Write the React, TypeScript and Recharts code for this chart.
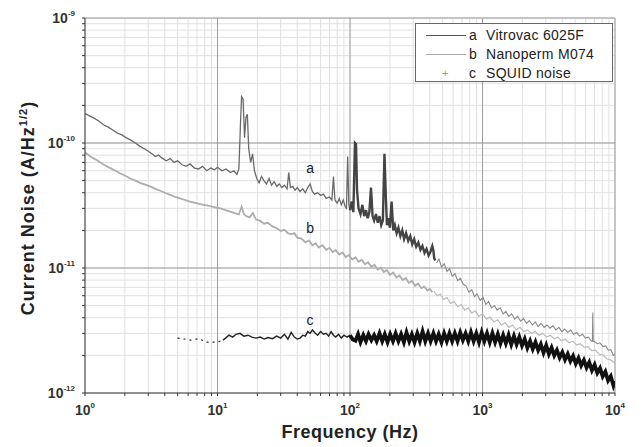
import { ComposedChart, Line, XAxis, YAxis, CartesianGrid, ReferenceLine, ReferenceDot } from 'recharts'

// noise values are in units of 1e-12 A/Hz^1/2, frequencies in Hz
const FONT = '"Liberation Sans", Arial, sans-serif'

const xMajor = [1, 10, 100, 1000, 10000]
const yMajor = [1, 10, 100, 1000]
const minorSteps = [1, 2, 3, 4, 5, 6, 7, 8, 9]

const vitrovacLow: [number, number][] = [
  [1, 172], [1.08, 165], [1.17, 158], [1.27, 150], [1.38, 140], [1.5, 134], [1.62, 127], [1.76, 120],
  [1.9, 116], [2.05, 110], [2.2, 106], [2.4, 100], [2.6, 94], [2.8, 90], [3.0, 86], [3.2, 82],
  [3.4, 78], [3.6, 80], [3.8, 76], [4.1, 72], [4.4, 75], [4.7, 70], [5.0, 72], [5.4, 67],
  [5.8, 65], [6.2, 68], [6.7, 63], [7.2, 62], [7.7, 65], [8.3, 60], [8.9, 63], [9.5, 61],
  [10, 64], [10.8, 60], [11.6, 62], [12.5, 58], [13.3, 60], [14, 56], [14.5, 62], [14.9, 140],
  [15.2, 235], [15.6, 225], [16, 110], [16.4, 160], [16.8, 170], [17.2, 90], [17.8, 70], [18.4, 82],
  [19, 60], [19.8, 52], [20.6, 48], [21.5, 54], [22.4, 50], [23.4, 47], [24.5, 52], [25.6, 46],
  [26.8, 49], [28, 45], [29.3, 47], [30.6, 44], [32, 46], [33.5, 43], [34.5, 58], [35.5, 44],
  [37, 45], [38.5, 42], [40, 44], [42, 41], [44, 43], [46, 40], [48, 44], [50, 47],
  [52, 41], [54, 39], [57, 40], [60, 38], [63, 39], [66, 36], [70, 37], [73, 35],
  [75, 54], [77, 35], [80, 33], [83, 36], [86, 32], [89, 35], [92, 31], [94, 30],
  [96, 78], [98, 32], [100, 29],
]

const vitrovacMid: [number, number][] = [
  [100, 29], [103, 34], [106, 28], [109, 100], [111, 98], [113, 42],
  [116, 30], [120, 27], [124, 32], [128, 26], [132, 29], [136, 25], [140, 28], [144, 44],
  [148, 26], [152, 24], [157, 27], [162, 23], [167, 26], [172, 22], [177, 24], [182, 82],
  [186, 40], [190, 22], [195, 25], [200, 21], [206, 34], [212, 20], [218, 22], [225, 19],
  [232, 21], [240, 18], [248, 20], [256, 17], [265, 19], [275, 16.5], [285, 18], [295, 15.5],
  [305, 17], [316, 14.8], [328, 16], [340, 14], [352, 15], [365, 13.2], [378, 14.2], [392, 12.6],
  [405, 13.5], [418, 15], [425, 14], [432, 12], [440, 11.5],
]

const vitrovacHigh: [number, number][] = [
  [450, 11], [470, 11.8], [490, 10.2], [515, 10.8], [540, 9.4], [565, 9.9], [590, 8.6], [620, 9.0],
  [650, 7.9], [680, 8.3], [715, 7.4], [750, 7.2], [790, 6.4], [830, 6.7], [870, 5.9], [910, 6.2],
  [960, 5.5], [1010, 5.8], [1060, 5.1], [1110, 5.4], [1170, 4.8], [1230, 5.0], [1290, 4.6], [1360, 4.8],
  [1430, 4.3], [1500, 4.5], [1580, 4.1], [1660, 4.3], [1750, 3.9], [1840, 4.1], [1940, 3.75], [2040, 3.95],
  [2150, 3.6], [2260, 3.8], [2380, 3.5], [2500, 3.7], [2630, 3.4], [2770, 3.6], [2920, 3.35], [3070, 3.5],
  [3230, 3.3], [3400, 3.45], [3580, 3.2], [3770, 3.35], [3970, 3.1], [4180, 3.25], [4400, 3.05], [4630, 3.2],
  [4870, 2.95], [5130, 3.05], [5400, 2.85], [5680, 2.95], [5980, 2.75], [6300, 2.8], [6600, 2.62], [6750, 2.6],
  [6800, 4.4], [6850, 2.6], [7000, 2.58], [7350, 2.48], [7700, 2.52], [8100, 2.35], [8500, 2.38], [8900, 2.2],
  [9300, 2.22], [9700, 2.0], [10000, 2.05],
]

const nanopermLow: [number, number][] = [
  [1, 84], [1.1, 78], [1.2, 74], [1.3, 70], [1.42, 66], [1.55, 63], [1.7, 60], [1.85, 57],
  [2.0, 55], [2.2, 52], [2.4, 50], [2.6, 48], [2.85, 46.5], [3.1, 45], [3.4, 43], [3.7, 41.5],
  [4.0, 40], [4.4, 38.5], [4.8, 37], [5.2, 36], [5.7, 35], [6.2, 34], [6.8, 33.2], [7.4, 32.5],
  [8.1, 31.8], [8.8, 31.2], [9.6, 30.6], [10.5, 30], [11.5, 29], [12.5, 28.3], [13.5, 27.5], [14.5, 26.8],
  [15.2, 31], [15.8, 27], [16.5, 26], [17.5, 25.4], [18.5, 27.5], [19.5, 24.5], [21, 23.8], [22.5, 22.6],
  [24, 23], [26, 21.5], [28, 20.8], [30, 19.8], [32, 20.2], [34, 19], [36, 18.6], [38, 19],
  [40, 17.5], [43, 17.2], [46, 16], [49, 16.6], [52, 15.2], [55, 15.8], [58, 14.6], [62, 15.2],
  [66, 14], [70, 14.5], [74, 13.4], [78, 13.9], [83, 12.8], [88, 13.3], [93, 12.2], [98, 12.7],
  [104, 11.7], [110, 12.2], [116, 11.2], [123, 11.6], [130, 10.7], [137, 11.1], [145, 10.2], [153, 10.6],
  [162, 9.7], [171, 10.1], [180, 9.3], [190, 9.6], [200, 8.8], [212, 9.2], [224, 8.4], [236, 8.7],
  [250, 8.0], [264, 8.3], [278, 7.6], [294, 7.9], [310, 7.2], [327, 7.5], [345, 6.9], [364, 7.1],
  [384, 6.6], [400, 6.8], [420, 6.4],
]

const nanopermHigh: [number, number][] = [
  [430, 6.5], [455, 6.0], [480, 6.2], [510, 5.6], [540, 5.8], [575, 5.2], [610, 5.4], [650, 4.9],
  [690, 5.1], [735, 4.6], [780, 4.8], [830, 4.35], [880, 4.55], [940, 4.1], [1000, 4.3], [1070, 3.9],
  [1140, 4.05], [1220, 3.7], [1300, 3.85], [1390, 3.5], [1480, 3.65], [1580, 3.35], [1690, 3.5], [1800, 3.2],
  [1920, 3.35], [2050, 3.1], [2190, 3.2], [2340, 3.0], [2500, 3.1], [2670, 2.9], [2850, 3.0], [3040, 2.8],
  [3250, 2.9], [3470, 2.72], [3700, 2.8], [3950, 2.62], [4220, 2.7], [4500, 2.52], [4800, 2.6], [5130, 2.42],
  [5480, 2.48], [5850, 2.32], [6250, 2.35], [6670, 2.18], [7120, 2.2], [7600, 2.04], [8100, 2.02], [8650, 1.88],
  [9250, 1.84], [10000, 1.72],
]

const squidSparse: [number, number][] = [
  [5.0, 2.75], [6.3, 2.65], [7.2, 2.72], [8.3, 2.55], [8.8, 2.56], [9.6, 2.55], [10.1, 2.56], [11, 2.65],
]

const squidLow: [number, number][] = [
  [11, 2.65], [11.5, 2.75], [12.2, 2.9], [13, 2.8], [13.8, 2.95], [14.8, 3.0], [15.8, 2.85], [17, 2.9],
  [18.2, 2.8], [19.5, 2.75], [21, 2.8], [22.5, 2.7], [24, 2.78], [26, 2.72], [28, 2.85], [30, 2.75],
  [32, 2.95], [34, 2.7], [36, 3.05], [38, 2.8], [40, 2.7], [42, 2.75], [44, 2.9], [46, 2.85],
  [48, 3.1], [50, 3.0], [52, 3.2], [54, 3.05], [57, 2.9], [60, 3.1], [63, 2.95], [66, 3.0],
  [69, 2.85], [72, 3.1], [75, 2.9], [78, 2.8], [82, 2.95], [86, 2.75], [90, 2.9], [95, 2.8],
  [100, 2.9],
]

const squidHigh: [number, number][] = [
  [100, 2.9], [105, 2.68], [110, 2.62], [115, 2.95], [120, 2.55], [126, 2.9], [132, 2.6], [138, 2.95],
  [145, 2.65], [152, 2.9], [159, 2.6], [167, 3.0], [175, 2.6], [183, 2.95], [192, 2.55], [201, 2.95],
  [211, 2.6], [221, 3.0], [232, 2.6], [243, 2.95], [255, 2.55], [267, 3.05], [280, 2.6], [293, 2.95],
  [307, 2.55], [322, 3.0], [337, 2.6], [353, 3.1], [370, 2.6], [388, 3.0], [406, 2.6], [426, 3.0],
  [446, 2.6], [467, 2.95], [490, 2.55], [513, 3.0], [538, 2.6], [563, 3.0], [590, 2.6], [618, 3.0],
  [648, 2.6], [679, 3.05], [711, 2.65], [745, 3.0], [781, 2.6], [818, 3.05], [857, 2.6], [898, 3.0],
  [941, 2.55], [986, 3.05], [1033, 2.6], [1082, 3.0], [1134, 2.55], [1188, 3.0], [1245, 2.55], [1305, 2.95],
  [1367, 2.5], [1432, 2.9], [1501, 2.5], [1573, 2.9], [1648, 2.45], [1727, 2.85], [1809, 2.45], [1896, 2.8],
  [1987, 2.4], [2082, 2.7], [2181, 2.3], [2286, 2.6], [2395, 2.25], [2510, 2.55], [2630, 2.2], [2755, 2.45],
  [2887, 2.1], [3025, 2.4], [3170, 2.05], [3322, 2.3], [3481, 2.0], [3647, 2.2], [3822, 1.92], [4005, 2.12],
  [4196, 1.85], [4397, 2.05], [4607, 1.8], [4828, 1.98], [5059, 1.72], [5301, 1.9], [5555, 1.66], [5820, 1.83],
  [6099, 1.6], [6391, 1.76], [6697, 1.52], [7017, 1.68], [7353, 1.45], [7705, 1.58], [8073, 1.36], [8459, 1.48],
  [8864, 1.26], [9288, 1.36], [9732, 1.15], [10000, 1.25],
]

const legendItems = [
  { key: 'a', name: 'Vitrovac 6025F', color: '#555', mark: 'line' },
  { key: 'b', name: 'Nanoperm M074', color: '#aaa', mark: 'line' },
  { key: 'c', name: 'SQUID noise', color: '#999', mark: 'plus' },
]

const curveLabels = [
  { text: 'a', f: 50, v: 63 },
  { text: 'b', f: 50, v: 21 },
  { text: 'c', f: 50, v: 3.85 },
]

const withMinors = (majors: number[]) =>
  majors.flatMap((m, i) => (i === majors.length - 1 ? [m] : minorSteps.map((k) => k * m)))

const xTicks = withMinors(xMajor)
const yTicks = withMinors(yMajor)

const toRows = (pts: [number, number][]) => pts.map(([f, v]) => ({ f, v }))

function XTick({ x, y, payload }: any) {
  if (!xMajor.includes(payload.value)) return <g />
  const exp = Math.round(Math.log10(payload.value))
  return (
    <text x={x} y={y + 17} textAnchor="middle" fontFamily={FONT} fontWeight="bold" fontSize={14} fill="#333">
      <tspan>10</tspan>
      <tspan dy={-7} fontSize={8}>{exp}</tspan>
    </text>
  )
}

function YTick({ x, y, payload }: any) {
  if (!yMajor.includes(payload.value)) return <g />
  const exp = Math.round(Math.log10(payload.value)) - 12
  return (
    <text x={x - 5} y={y + 5} textAnchor="end" fontFamily={FONT} fontWeight="bold" fontSize={14} fill="#333">
      <tspan>10</tspan>
      <tspan dy={-7} fontSize={8}>{exp}</tspan>
    </text>
  )
}

export default function App() {
  return (
    <div style={{ position: 'absolute', left: 0, top: 0, width: 644, height: 447, background: '#fff', fontFamily: FONT }}>
      <ComposedChart width={644} height={447} margin={{ top: 18, right: 29, left: 15, bottom: 14 }}>
        <CartesianGrid stroke="#e0e0e0" />
        <XAxis
          type="number" dataKey="f" scale="log" domain={[1, 10000]} allowDataOverflow
          ticks={xTicks} interval={0} tick={<XTick />} tickSize={3} height={40}
          axisLine={{ stroke: '#333' }} tickLine={{ stroke: '#333' }}
        />
        <YAxis
          type="number" dataKey="v" scale="log" domain={[1, 1000]} allowDataOverflow
          ticks={yTicks} interval={0} tick={<YTick />} tickSize={3} width={70}
          axisLine={{ stroke: '#333' }} tickLine={{ stroke: '#333' }}
        />
        {xMajor.slice(1).map((f) => (
          <ReferenceLine key={`x${f}`} x={f} stroke="#9c9c9c" />
        ))}
        {yMajor.slice(1).map((v) => (
          <ReferenceLine key={`y${v}`} y={v} stroke="#9c9c9c" />
        ))}
        <Line data={toRows(nanopermLow)} dataKey="v" type="linear" dot={false} stroke="#adadad" strokeWidth={1.8} isAnimationActive={false} />
        <Line data={toRows(nanopermHigh)} dataKey="v" type="linear" dot={false} stroke="#bababa" strokeWidth={1.2} isAnimationActive={false} />
        <Line data={toRows(vitrovacLow)} dataKey="v" type="linear" dot={false} stroke="#6a6a6a" strokeWidth={1.3} isAnimationActive={false} />
        <Line data={toRows(vitrovacMid)} dataKey="v" type="linear" dot={false} stroke="#444" strokeWidth={2.4} isAnimationActive={false} />
        <Line data={toRows(vitrovacHigh)} dataKey="v" type="linear" dot={false} stroke="#8a8a8a" strokeWidth={1.1} isAnimationActive={false} />
        <Line data={toRows(squidSparse)} dataKey="v" type="linear" dot={false} stroke="#222" strokeWidth={1.2} strokeDasharray="2 4" isAnimationActive={false} />
        <Line data={toRows(squidLow)} dataKey="v" type="linear" dot={false} stroke="#222" strokeWidth={1.4} isAnimationActive={false} />
        <Line data={toRows(squidHigh)} dataKey="v" type="linear" dot={false} stroke="#111" strokeWidth={3.8} isAnimationActive={false} />
        {curveLabels.map((l) => (
          <ReferenceDot
            key={l.text} x={l.f} y={l.v} r={1} fill="none" stroke="none" ifOverflow="visible"
            label={{ value: l.text, position: 'center', fill: '#222', fontSize: 14, fontFamily: FONT }}
          />
        ))}
      </ComposedChart>

      <div
        style={{
          position: 'absolute', left: 415, top: 23, width: 196, height: 57,
          border: '1px solid #666', background: '#fff', fontSize: 14, color: '#222',
        }}
      >
        {legendItems.map((it, i) => (
          <div key={it.key} style={{ position: 'absolute', left: 0, top: 2 + i * 19, height: 18, lineHeight: '18px', whiteSpace: 'nowrap' }}>
            <span style={{ position: 'absolute', left: 10, top: 9, width: 40, height: 0 }}>
              {it.mark === 'line' ? (
                <span style={{ display: 'block', borderTop: `1px solid ${it.color}` }} />
              ) : (
                <span style={{ position: 'absolute', left: 16, top: -9, fontSize: 11, color: it.color }}>+</span>
              )}
            </span>
            <span style={{ position: 'absolute', left: 53, letterSpacing: 0.3 }}>{it.key}</span>
            <span style={{ position: 'absolute', left: 70, letterSpacing: 0.3 }}>{it.name}</span>
          </div>
        ))}
      </div>

      <div
        style={{
          position: 'absolute', left: 350, top: 432, transform: 'translate(-50%, -50%)',
          fontWeight: 'bold', fontSize: 18, letterSpacing: 0.5, color: '#222', whiteSpace: 'nowrap',
        }}
      >
        Frequency (Hz)
      </div>
      <div
        style={{
          position: 'absolute', left: 28, top: 208, transform: 'translate(-50%, -50%) rotate(-90deg)',
          fontWeight: 'bold', fontSize: 18, letterSpacing: 1, color: '#222', whiteSpace: 'nowrap',
        }}
      >
        Current Noise (A/Hz<sup style={{ fontSize: 11 }}>1/2</sup>)
      </div>
    </div>
  )
}
